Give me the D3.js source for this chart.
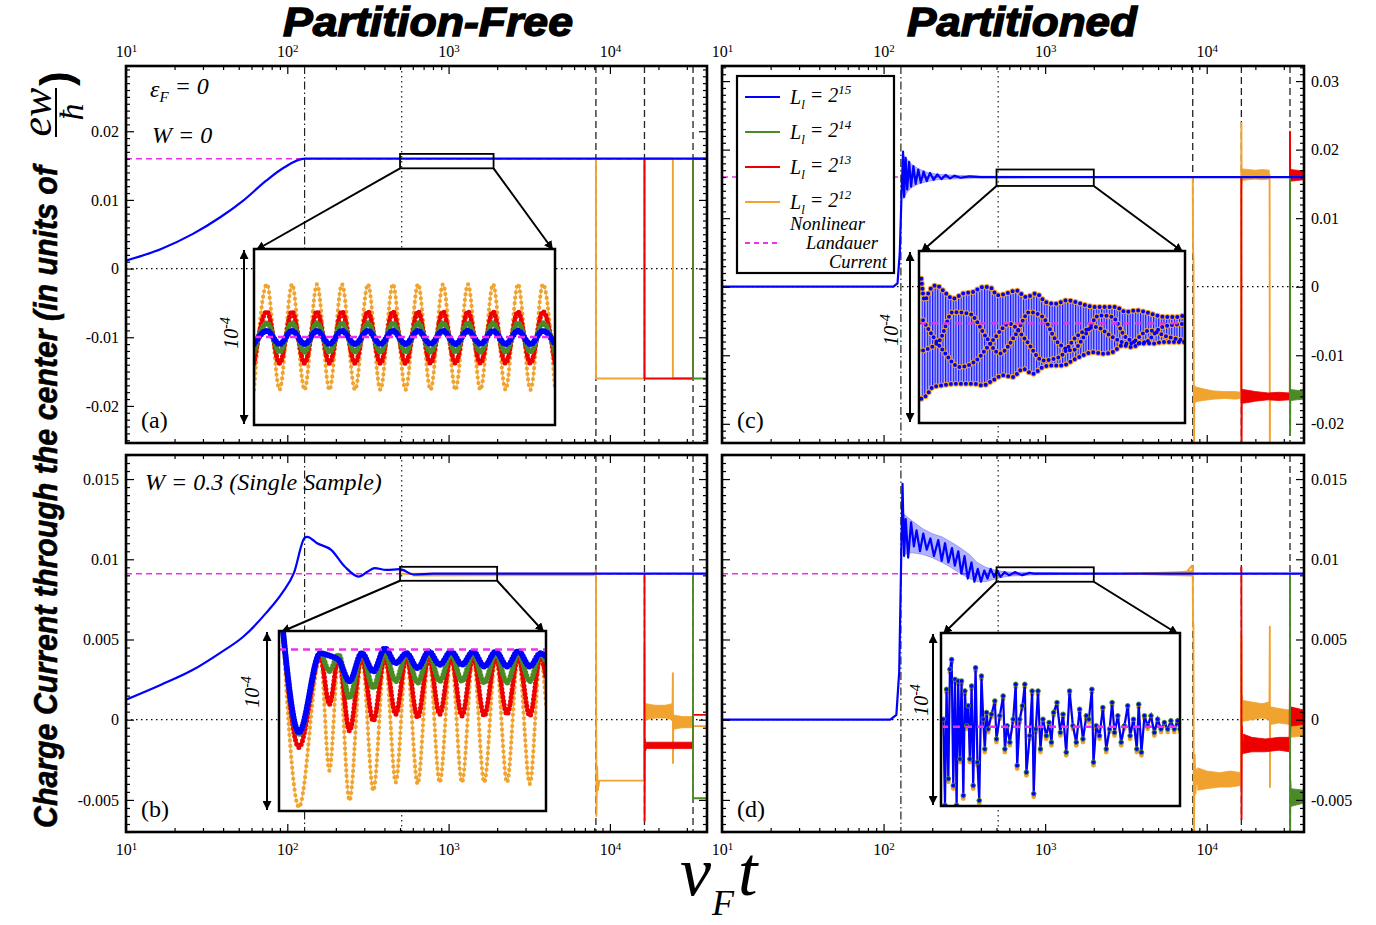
<!DOCTYPE html>
<html>
<head>
<meta charset="utf-8">
<title>Charge current through the center</title>
<script src="https://cdn.jsdelivr.net/npm/d3@7"></script>
<style>
  body { margin: 0; background: #fff; }
  svg { display: block; }
  .tick text { font-family: "Liberation Serif", "Times New Roman", serif; font-size: 16px; fill: #000; }
  .tick line { stroke: #000; stroke-width: 1.2; }
</style>
</head>
<body>
<svg id="fig" width="1376" height="925"></svg>
<script>
// time axis (v_F t), shared by all four panels
const tRange = [10, 40000];
const decadeTicks = [10, 100, 1000, 10000];
const crossingTime = 128;
const midTime = 512;
const reflectionTimes = [8192, 16384, 32768];

const yTicksTop = [-0.02, -0.01, 0, 0.01, 0.02, 0.03];
const yTicksBottom = [-0.005, 0, 0.005, 0.01, 0.015];

const landauerClean = 0.016;
const landauerDisordered = 0.0091;

// (a) partition-free, W = 0   [t, current]
const aBlue = [[10, 0.00116], [16.5, 0.00286], [26, 0.00505], [38.4, 0.00747], [53.3, 0.0099],
  [74, 0.0128], [96, 0.01475], [128, 0.016], [40000, 0.016]];
const aOrange = [[8192, 0.016], [8192, -0.016], [16384, -0.016], [16384, 0.016], [24576, 0.016],
  [24576, -0.016], [32768, -0.016], [32768, 0.016], [40000, 0.016]];
const aRed = [[16384, 0.016], [16384, -0.016], [32768, -0.016], [32768, 0.016], [40000, 0.016]];
const aGreen = [[32768, 0.016], [32768, -0.016], [40000, -0.016]];

// (b) partition-free, W = 0.3
const bBlue = [[10, 0.00125], [16.5, 0.00218], [26, 0.00311], [38.4, 0.00417], [53.3, 0.00517],
  [74, 0.00666], [93, 0.00791], [110, 0.00915], [128, 0.01133], [133, 0.0114], [153, 0.011],
  [187, 0.01059], [227, 0.00955], [277, 0.00892], [316, 0.00924], [348, 0.00945], [411, 0.00934],
  [499, 0.00938], [608, 0.00905], [800, 0.0091], [40000, 0.0091]];
const bOrange = [[500, 0.0091], [8100, 0.0091], [8192, 0.0093], [8250, -0.006], [8330, -0.0029],
  [8420, -0.0044], [8600, -0.0038], [16300, -0.0038], [16384, 0.0044], [16450, -0.0012],
  [16560, 0.001], [16700, 0.0004], [24450, 0.0005], [24576, 0.0029], [24620, -0.0027],
  [24700, 0.0002], [32700, -0.0002], [32768, -0.0004], [40000, -0.0004]];
const bOrangeBands = [
  [[600, 0.00895, 0.0091], [3000, 0.00898, 0.0091], [8000, 0.00898, 0.0091]],
  [[16700, 0, 0.001], [19000, 0.0001, 0.0009], [22000, 0.0001, 0.0009], [24400, 0, 0.001]],
  [[24800, -0.0006, 0.0003], [28000, -0.0005, 0.0002], [32600, -0.0005, 0.0002]]];
const bRed = [[16300, 0.0091], [16384, 0.0091], [16410, -0.0063], [16480, -0.0012], [16600, -0.0019],
  [16800, -0.0016], [32700, -0.0016], [32768, 0.0003], [40000, 0.0003]];
const bRedBands = [[[16800, -0.0018, -0.0014], [24000, -0.0018, -0.0014], [32600, -0.0018, -0.0014]]];
const bGreen = [[32768, 0.0091], [32768, -0.0049], [40000, -0.0049]];

// (c) partitioned, W = 0
const cBlue = [[10, 0], [115, 0], [122, 0.0005], [126, 0.005], [129, 0.013], [132, 0.0197],
  [134, 0.0131], [137, 0.0188], [140, 0.0142], [144, 0.0182], [148, 0.0146], [153, 0.0176],
  [158, 0.015], [164, 0.0171], [170, 0.0152], [177, 0.0168], [185, 0.0154], [194, 0.0166],
  [204, 0.0156], [215, 0.0164], [228, 0.0157], [242, 0.0163], [258, 0.0158], [275, 0.0162],
  [300, 0.0159], [340, 0.0161], [400, 0.016], [40000, 0.016]];
const cBlueBands = [[[133, 0.0128, 0.0192], [140, 0.0138, 0.0186], [150, 0.0145, 0.0178],
  [165, 0.015, 0.0172], [185, 0.0153, 0.0167], [215, 0.0156, 0.0164], [260, 0.0157, 0.0163],
  [400, 0.01585, 0.01615], [700, 0.0159, 0.0161], [1000, 0.01597, 0.01603]]];
const cOrange = [[8192, 0.016], [8230, 0.0054], [8280, 0.004], [8330, -0.024], [8400, -0.0145],
  [8470, -0.0168], [8550, -0.0152], [16300, -0.0158], [16384, 0.0239], [16450, 0.015],
  [16550, 0.0165], [24500, 0.0163], [24576, -0.024], [24650, -0.016], [32768, -0.016],
  [32800, 0.016], [40000, 0.016]];
const cOrangeBands = [
  [[8500, -0.0168, -0.0146], [9500, -0.0166, -0.0149], [11000, -0.0164, -0.0152],
   [13000, -0.0163, -0.0153], [15000, -0.0164, -0.0153], [16300, -0.0163, -0.0154]],
  [[16500, 0.0155, 0.0172], [18000, 0.0156, 0.0171], [20000, 0.0157, 0.017],
   [22000, 0.0156, 0.0171], [24400, 0.0157, 0.017]]];
const cRed = [[16384, 0.016], [16420, -0.024], [16500, -0.015], [16600, -0.0166], [32700, -0.016],
  [32768, 0.0226], [32850, 0.0155], [33000, 0.0165], [40000, 0.0162]];
const cRedBands = [
  [[16600, -0.017, -0.015], [18000, -0.0169, -0.0151], [20000, -0.0167, -0.0153],
   [24000, -0.0165, -0.0155], [28000, -0.0166, -0.0154], [32600, -0.0165, -0.0155]],
  [[33000, 0.0154, 0.0171], [36000, 0.0155, 0.017], [40000, 0.0156, 0.0169]]];
const cGreen = [[32768, 0.016], [32800, -0.0215], [32900, -0.015], [33100, -0.0162], [40000, -0.0158]];
const cGreenBands = [[[33100, -0.0166, -0.015], [36000, -0.0165, -0.0151], [40000, -0.0164, -0.0152]]];

// (d) partitioned, W = 0.3
const dBlue = [[10, 0], [110, 0], [120, 0.0003], [125, 0.003], [128, 0.009], [131, 0.0147],
  [134, 0.0102], [137, 0.0125], [142, 0.0101], [148, 0.0123], [154, 0.0108], [160, 0.0118],
  [168, 0.0105], [176, 0.0116], [185, 0.0106], [195, 0.0113], [205, 0.0102], [218, 0.0112],
  [229, 0.0099], [240, 0.011], [252, 0.0098], [265, 0.0107], [276, 0.0096], [290, 0.0105],
  [303, 0.0091], [317, 0.0102], [332, 0.0088], [350, 0.0098], [365, 0.0086], [383, 0.0094],
  [401, 0.0086], [420, 0.0093], [440, 0.0088], [460, 0.0094], [483, 0.0089], [505, 0.0093],
  [530, 0.0089], [560, 0.0092], [600, 0.009], [650, 0.0092], [721, 0.009], [800, 0.00915],
  [867, 0.0091], [40000, 0.0091]];
const dBlueBands = [[[134, 0.0103, 0.0128], [150, 0.0104, 0.0124], [175, 0.0103, 0.0119],
  [200, 0.0101, 0.0116], [230, 0.0098, 0.0114], [260, 0.0095, 0.0111], [300, 0.0091, 0.0107],
  [340, 0.0088, 0.0103], [380, 0.0086, 0.0098], [430, 0.0086, 0.0095], [500, 0.0088, 0.0093],
  [600, 0.00895, 0.0092], [900, 0.00903, 0.00917], [1500, 0.00906, 0.00914], [3000, 0.00908, 0.00912]]];
const dOrange = [[3000, 0.0091], [7500, 0.0092], [8100, 0.0096], [8192, 0.0093], [8230, 0.0058],
  [8270, 0.006], [8320, -0.008], [8420, -0.0022], [8520, -0.0046], [8650, -0.0031], [8800, -0.004],
  [16300, -0.0037], [16384, 0.0052], [16450, -0.0008], [16560, 0.0015], [16700, 0.0004],
  [24450, 0.0006], [24576, 0.0058], [24620, -0.0042], [24700, 0.0008], [24900, 0.0002],
  [32700, 0.0002], [32768, -0.0006], [40000, -0.0006]];
const dOrangeBands = [
  [[4000, 0.00905, 0.00915], [6500, 0.00898, 0.0092], [8100, 0.00895, 0.0093]],
  [[8800, -0.0044, -0.003], [10000, -0.0043, -0.0032], [12000, -0.0042, -0.0033],
   [14000, -0.0042, -0.0032], [16300, -0.0041, -0.0033]],
  [[16700, -0.0001, 0.0012], [19000, 0, 0.0011], [22000, 0.0001, 0.001], [24400, 0, 0.0011]],
  [[24800, -0.0003, 0.0008], [28000, -0.0002, 0.0007], [32600, -0.0003, 0.0006]],
  [[32900, -0.0011, -0.0002], [40000, -0.001, -0.0003]]];
const dRed = [[16300, 0.0093], [16384, 0.0095], [16420, -0.0062], [16500, -0.0004], [16650, -0.0021],
  [16900, -0.0014], [32600, -0.0016], [32768, 0.0033], [32850, -0.0008], [33000, 0.0004], [40000, 0.0001]];
const dRedBands = [
  [[16900, -0.0021, -0.0009], [19000, -0.002, -0.0011], [23000, -0.002, -0.0012],
   [28000, -0.0019, -0.0011], [32600, -0.002, -0.0011]],
  [[33000, -0.0004, 0.0008], [40000, -0.0003, 0.0006]]];
const dGreen = [[32768, 0.0091], [32800, -0.008], [32950, -0.0038], [33200, -0.0051], [40000, -0.0048]];
const dGreenBands = [[[33200, -0.0054, -0.0043], [40000, -0.0052, -0.0044]]];

// insets: deviation from the Landauer current, in units of 1e-6
const insetA_t = [500, 560, 619, 677, 735, 793, 851, 909, 970, 1030, 1088, 1146, 1205, 1263,
  1321, 1379, 1437, 1495, 1553, 1612, 1670, 1728, 1786, 1844, 1900];
const insetA_orange = [-30, 30, -30, 30, -30, 30, -30, 30, -30, 30, -30, 30, -30, 30, -30, 30,
  -30, 30, -30, 30, -30, 30, -30, 30, -30];
const insetA_red = [-15, 14.5, -15, 14.5, -15, 14.5, -15, 14.5, -15, 14.5, -15, 14.5, -15, 14.5,
  -15, 14.5, -15, 14.5, -15, 14.5, -15, 14.5, -15, 14.5, -15];
const insetA_green = [-8.5, 8, -8.5, 8, -8.5, 8, -8.5, 8, -8.5, 8, -8.5, 8, -8.5, 8, -8.5, 8,
  -8.5, 8, -8.5, 8, -8.5, 8, -8.5, 8, -8.5];
const insetA_blue = [-4, 3.5, -4, 3.5, -4, 3.5, -4, 3.5, -4, 3.5, -4, 3.5, -4, 3.5, -4, 3.5,
  -4, 3.5, -4, 3.5, -4, 3.5, -4, 3.5, -4];

const insetB_t = [519, 612, 732, 783, 835, 896, 965, 1030, 1095, 1156, 1216, 1279, 1342, 1403,
  1467, 1528, 1591, 1653, 1718, 1781, 1844, 1909, 1969, 2000];
const insetB_blue = [14, -47.5, -2.1, -3.5, -6, -18.2, -2.1, -12.5, 0.7, -7.8, -2.1, -10.6, -1.1,
  -8.7, -1.1, -8.7, -1.1, -9.7, -1.1, -9.7, -0.8, -9.7, -2.1, -4];
const insetB_green = [14, -48.5, -2.1, -12.5, -3, -27.7, -2.1, -22, -2.1, -18.2, -2.1, -19.1, -2.1,
  -18.2, -2.1, -18.2, -2.1, -19.1, -2.1, -19.1, -2.1, -18.2, -2.1, -7.8];
const insetB_red = [14, -56, -4, -31.4, -4, -46.6, -4, -40.9, -4, -37.1, -4, -39, -4, -37.1, -4,
  -38, -4, -38, -4, -37.1, -4, -38, -4, -16.3];
const insetB_orange = [14, -90.2, -4, -69.3, -5, -86.4, -4, -80.7, -4, -76, -4, -76.9, -4, -76,
  -4, -76, -4, -76, -4, -76, -4, -76.9, -4, -31.4];

const insetC_upper = [[513, 26], [532, 13.4], [560, 19.2], [598, 22.1], [635, 19.2], [691, 14.4],
  [748, 17.3], [804, 18.2], [860, 21.1], [898, 21.1], [944, 16.3], [991, 17.3], [1048, 19.2],
  [1104, 15.3], [1160, 17.3], [1216, 12.4], [1273, 11.4], [1329, 13.4], [1385, 12.4], [1441, 10.5],
  [1498, 9.5], [1554, 9.5], [1610, 9.5], [1666, 6.6], [1723, 7.6], [1779, 6.6], [1835, 4.7],
  [1891, 3.7], [1948, 3.7], [2000, 4.7]];
const insetC_lower = [[513, -43.8], [541, -41.9], [579, -37], [635, -36], [691, -35.1], [748, -35.1],
  [804, -35.1], [860, -36], [916, -33.1], [973, -30.2], [1029, -31.2], [1085, -26.4], [1141, -29.3],
  [1198, -25.4], [1254, -24.4], [1310, -24.4], [1366, -21.5], [1423, -18.6], [1479, -16.7],
  [1535, -17.6], [1591, -16.7], [1648, -12.8], [1704, -13.8], [1760, -10.8], [1816, -11.8],
  [1873, -10.8], [1929, -10.8], [2000, -10.8]];
const insetC_inner1 = [[523, -15.7], [616, -9.9], [691, 6.6], [785, 5.6], [879, -8], [954, -17.6],
  [1048, -6], [1123, 6.6], [1198, 3.7], [1273, -9.9], [1366, -15.7], [1441, -6], [1516, 4.7],
  [1591, 3.7], [1666, -8], [1760, -11.8], [1873, -2.1], [2000, -0.2]];
const insetC_inner2 = [[523, 1.8], [635, -15.7], [729, -25.4], [823, -21.5], [916, -9.9], [1010, -0.2],
  [1104, -9.9], [1198, -21.5], [1291, -19.6], [1385, -8], [1498, -2.1], [1591, -8], [1685, -11.8],
  [1798, -4.1], [1910, -8], [2000, -9.9]];

const insetD_pts = [[515, 4.4], [525, -45.6], [535, 21.8], [546, -30.2], [556, 33.4], [567, 39.1],
  [577, -34.1], [588, 27.6], [598, -45.6], [608, 26.6], [619, -18.7], [629, 26.6], [640, -39.9],
  [650, 20.8], [661, 0.6], [671, 12.2], [681, -18.7], [692, 23.7], [702, -34.1], [717, 34.3],
  [729, -20.6], [740, -42.8], [754, 29.5], [765, 4.4], [775, -12.9], [786, 8.3], [796, -1.3],
  [817, 7.3], [838, 15], [848, -7.1], [869, 6.4], [890, 17.9], [901, -12.9], [915, 0.6], [932, -9],
  [953, 4.4], [969, 24.7], [978, -22.5], [994, 4.4], [1011, 12.2], [1026, 24.7], [1036, -26.4],
  [1057, -5.2], [1072, 20.8], [1082, -38.9], [1095, -1.3], [1109, 20.8], [1124, -12.9], [1140, 4.4],
  [1161, -5.2], [1178, 2.5], [1193, -9], [1207, 8.3], [1228, 14.1], [1249, -3.3], [1266, 7.3],
  [1286, -14.8], [1307, 20.8], [1328, 0.6], [1349, -9], [1370, 10.2], [1391, -7.1], [1412, 6.4],
  [1428, 4.4], [1447, 21.8], [1457, -20.6], [1474, 0.6], [1495, -5.2], [1516, 11.2], [1537, -12.9],
  [1558, -1.3], [1574, 14.1], [1589, -3.3], [1610, 6.4], [1631, -9], [1651, 0.6], [1672, 12.2],
  [1687, -5.2], [1708, 4.4], [1729, -12.9], [1741, 13.1], [1758, -14.8], [1777, 6.4], [1797, 0.6],
  [1818, 6.4], [1839, -3.3], [1860, 4.4], [1881, -1.3], [1902, 2.5], [1923, -1.3], [1943, 3.5],
  [1964, -1.3], [1985, 3.5], [2000, -1.3]];

const legendExponents = ["15", "14", "13", "12"];
const legendColors = ["blue", "green", "red", "orange"];

// ---------------------------------------------------------------
const col = { blue: "#0000ff", green: "#4b8b25", red: "#ee0000", orange: "#f0a32f", magenta: "#ee30ee" };
const serif = "'Liberation Serif','Times New Roman',serif";
const sans = "'Liberation Sans',Arial,sans-serif";

const panels = [
  { key: "a", tag: "(a)", left: 126, top: 66, width: 581, height: 377,
    yDomain: [-0.0254, 0.0295], yMajor: yTicksTop, yMinorStep: 0.001, xLabels: "top", yLabels: "left",
    landauer: landauerClean,
    series: [{ color: "orange", line: aOrange }, { color: "red", line: aRed },
             { color: "green", line: aGreen }, { color: "blue", line: aBlue, smooth: true }],
    inset: { kind: "wave", box: { x: 128, y: 183, w: 301, h: 176 }, window: [500, 1900, 0.0146, 0.0167],
      vDomain: [-50, 50], arrowDx: -10, labelDx: -16, labelCy: 84, t: insetA_t,
      lines: [["orange", insetA_orange], ["red", insetA_red], ["green", insetA_green], ["blue", insetA_blue]] } },
  { key: "b", tag: "(b)", left: 126, top: 455, width: 581, height: 377,
    yDomain: [-0.007, 0.0165], yMajor: yTicksBottom, yMinorStep: 0.0005, xLabels: "bottom", yLabels: "left",
    landauer: landauerDisordered,
    series: [{ color: "orange", line: bOrange, bands: bOrangeBands }, { color: "red", line: bRed, bands: bRedBands },
             { color: "green", line: bGreen }, { color: "blue", line: bBlue, smooth: true }],
    inset: { kind: "wave", box: { x: 153, y: 176, w: 267, h: 180 }, window: [500, 2000, 0.00866, 0.00953],
      vDomain: [-92.4, 10.6], arrowDx: -12, labelDx: -20, labelCy: 61, t: insetB_t,
      lines: [["orange", insetB_orange], ["red", insetB_red], ["green", insetB_green], ["blue", insetB_blue]] } },
  { key: "c", tag: "(c)", left: 722, top: 66, width: 582, height: 377,
    yDomain: [-0.0228, 0.0322], yMajor: yTicksTop, yMinorStep: 0.001, xLabels: "top", yLabels: "right",
    landauer: landauerClean,
    series: [{ color: "orange", line: cOrange, bands: cOrangeBands }, { color: "red", line: cRed, bands: cRedBands },
             { color: "green", line: cGreen, bands: cGreenBands }, { color: "blue", line: cBlue, bands: cBlueBands }],
    inset: { kind: "envelope", box: { x: 197, y: 185, w: 266, h: 172 }, window: [500, 2000, 0.0147, 0.0171],
      vDomain: [-57.9, 42.1], arrowDx: -9, labelDx: -21, labelCy: 79 } },
  { key: "d", tag: "(d)", left: 722, top: 455, width: 582, height: 377,
    yDomain: [-0.007, 0.0165], yMajor: yTicksBottom, yMinorStep: 0.0005, xLabels: "bottom", yLabels: "right",
    landauer: landauerDisordered,
    series: [{ color: "orange", line: dOrange, bands: dOrangeBands }, { color: "red", line: dRed, bands: dRedBands },
             { color: "green", line: dGreen, bands: dGreenBands }, { color: "blue", line: dBlue, bands: dBlueBands }],
    inset: { kind: "noise", box: { x: 219, y: 178, w: 239, h: 173 }, window: [500, 2000, 0.0086, 0.0095],
      vDomain: [-46, 54.5], arrowDx: -8, labelDx: -13, labelCy: 67 } }
];

const svg = d3.select("#fig");
const defs = svg.append("defs");

defs.append("marker").attr("id", "arrow")
  .attr("viewBox", "0 0 10 10").attr("refX", 10).attr("refY", 5)
  .attr("markerWidth", 9).attr("markerHeight", 9)
  .attr("markerUnits", "userSpaceOnUse").attr("orient", "auto-start-reverse")
  .append("path").attr("d", "M0,0L10,5L0,10Z").attr("fill", "#000");

const hatch = defs.append("pattern").attr("id", "hatch")
  .attr("patternUnits", "userSpaceOnUse").attr("width", 2.6).attr("height", 10);
hatch.append("rect").attr("width", 2.6).attr("height", 10).attr("fill", "#b4b4ff");
hatch.append("rect").attr("width", 1.2).attr("height", 10).attr("fill", "#1010ff");

const fmtY = d => String(+d.toFixed(4));

function drawAxes(g, x, y, p) {
  const minorX = x.ticks().filter(t => !decadeTicks.includes(t) && t < tRange[1]);
  [["top", 0, d3.axisTop], ["bottom", p.height, d3.axisBottom]].forEach(([side, pos, mk]) => {
    g.append("g").attr("transform", `translate(0,${pos})`)
      .call(mk(x).tickValues(minorX).tickSize(-4).tickFormat(""))
      .call(a => a.select(".domain").remove());
    const labelled = p.xLabels === side;
    const ax = g.append("g").attr("transform", `translate(0,${pos})`)
      .call(mk(x).tickValues(decadeTicks).tickSize(-8).tickPadding(side === "top" ? 9 : 12)
        .tickFormat(labelled ? () => "10" : ""))
      .call(a => a.select(".domain").remove());
    if (labelled) {
      ax.selectAll(".tick text").append("tspan")
        .attr("dy", "-0.5em").attr("font-size", "11px")
        .text(d => Math.round(Math.log10(d)));
    }
  });

  const [lo, hi] = p.yDomain;
  const majorY = p.yMajor.filter(v => v >= lo && v <= hi);
  const minorY = d3.range(Math.ceil(lo / p.yMinorStep), Math.floor(hi / p.yMinorStep) + 1)
    .map(i => +(i * p.yMinorStep).toFixed(5))
    .filter(v => !majorY.some(m => Math.abs(m - v) < 1e-9));
  [["left", 0, d3.axisLeft], ["right", p.width, d3.axisRight]].forEach(([side, pos, mk]) => {
    g.append("g").attr("transform", `translate(${pos},0)`)
      .call(mk(y).tickValues(minorY).tickSize(-4).tickFormat(""))
      .call(a => a.select(".domain").remove());
    g.append("g").attr("transform", `translate(${pos},0)`)
      .call(mk(y).tickValues(majorY).tickSize(-8).tickPadding(7).tickFormat(p.yLabels === side ? fmtY : ""))
      .call(a => a.select(".domain").remove());
  });
}

const waveStyle = {
  orange: { lw: 1.3, dw: 4.2, gap: 5.5 },
  red: { lw: 2, dw: 5, gap: 4 },
  green: { lw: 3, dw: 5.5, gap: 3.5 },
  blue: { lw: 3.5, dw: 6, gap: 3 }
};

function dotted(sel, pathD, color, width, gap) {
  return sel.append("path").attr("d", pathD).attr("fill", "none")
    .attr("stroke", color).attr("stroke-width", width)
    .attr("stroke-linecap", "round").attr("stroke-dasharray", `0,${gap}`);
}

function drawInset(g, x, y, p) {
  const s = p.inset, b = s.box;
  const rx0 = x(s.window[0]), rx1 = x(s.window[1]);
  const ryTop = y(s.window[3]), ryBot = y(s.window[2]);

  g.append("rect").attr("x", rx0).attr("y", ryTop).attr("width", rx1 - rx0).attr("height", ryBot - ryTop)
    .attr("fill", "none").attr("stroke", "#000").attr("stroke-width", 1.8);
  [[rx0, b.x + 2], [rx1, b.x + b.w - 2]].forEach(([from, to]) => {
    g.append("line").attr("x1", from).attr("y1", ryBot).attr("x2", to).attr("y2", b.y + 1)
      .attr("stroke", "#000").attr("stroke-width", 2).attr("marker-end", "url(#arrow)");
  });

  const ig = g.append("g").attr("transform", `translate(${b.x},${b.y})`);
  ig.append("rect").attr("width", b.w).attr("height", b.h).attr("fill", "#fff");
  defs.append("clipPath").attr("id", "iclip-" + p.key)
    .append("rect").attr("width", b.w).attr("height", b.h);
  const body = ig.append("g").attr("clip-path", `url(#iclip-${p.key})`);

  const ix = d3.scaleLinear().domain([s.window[0], s.window[1]]).range([0, b.w]);
  const iy = d3.scaleLinear().domain(s.vDomain).range([b.h, 0]);
  const line = d3.line().x(d => ix(d[0])).y(d => iy(d[1]));

  if (s.kind === "wave") {
    const smooth = line.curve(d3.curveMonotoneX);
    s.lines.forEach(([c, vals]) => {
      const st = waveStyle[c];
      const dPath = smooth(d3.zip(s.t, vals));
      body.append("path").attr("d", dPath).attr("fill", "none")
        .attr("stroke", col[c]).attr("stroke-width", st.lw).attr("stroke-opacity", c === "orange" ? 0.8 : 1);
      dotted(body, dPath, col[c], st.dw, st.gap);
    });
  } else if (s.kind === "envelope") {
    const outline = line.curve(d3.curveLinear)(insetC_upper.concat(insetC_lower.slice().reverse())) + "Z";
    body.append("path").attr("d", outline).attr("fill", "url(#hatch)").attr("stroke", "none");
    const edges = [insetC_upper, insetC_lower, insetC_inner1, insetC_inner2].map(e => line.curve(d3.curveMonotoneX)(e));
    edges.forEach(e => body.append("path").attr("d", e).attr("fill", "none").attr("stroke", col.blue).attr("stroke-width", 1));
    edges.forEach(e => dotted(body, e, col.orange, 6, 5));
    edges.forEach(e => dotted(body, e, col.blue, 4, 5));
  } else {
    const lin = line.curve(d3.curveLinear);
    body.append("path").attr("d", lin(insetD_pts)).attr("fill", "none")
      .attr("stroke", col.orange).attr("stroke-width", 1.5).attr("transform", "translate(0,3)");
    body.append("g").attr("transform", "translate(0,3)").selectAll("circle").data(insetD_pts).join("circle")
      .attr("cx", d => ix(d[0])).attr("cy", d => iy(d[1])).attr("r", 2.4).attr("fill", col.orange);
    body.append("path").attr("d", lin(insetD_pts)).attr("fill", "none")
      .attr("stroke", col.blue).attr("stroke-width", 2.2);
    body.append("g").selectAll("circle").data(insetD_pts).join("circle")
      .attr("cx", d => ix(d[0])).attr("cy", d => iy(d[1])).attr("r", 2.3)
      .attr("fill", col.blue).attr("stroke", col.green).attr("stroke-width", 1);
  }

  body.append("line").attr("x1", 0).attr("x2", b.w).attr("y1", iy(0)).attr("y2", iy(0))
    .attr("stroke", col.magenta).attr("stroke-width", 2.4).attr("stroke-dasharray", "7,5");

  ig.append("rect").attr("width", b.w).attr("height", b.h)
    .attr("fill", "none").attr("stroke", "#000").attr("stroke-width", 2.5);

  ig.append("line").attr("x1", s.arrowDx).attr("x2", s.arrowDx).attr("y1", 1).attr("y2", b.h - 1)
    .attr("stroke", "#000").attr("stroke-width", 2)
    .attr("marker-start", "url(#arrow)").attr("marker-end", "url(#arrow)");
  const lab = ig.append("text").attr("transform", `translate(${s.labelDx},${s.labelCy}) rotate(-90)`)
    .attr("text-anchor", "middle").attr("font-family", serif).attr("font-style", "italic").attr("font-size", 20);
  lab.append("tspan").text("10");
  lab.append("tspan").attr("dy", "-0.55em").attr("font-size", 14).text("-4");
}

function drawPanel(p) {
  const g = svg.append("g").attr("transform", `translate(${p.left},${p.top})`);
  const x = d3.scaleLog().domain(tRange).range([0, p.width]);
  const y = d3.scaleLinear().domain(p.yDomain).range([p.height, 0]);

  defs.append("clipPath").attr("id", "clip-" + p.key)
    .append("rect").attr("width", p.width).attr("height", p.height);
  const plot = g.append("g").attr("clip-path", `url(#clip-${p.key})`);

  const vline = (t, dash, w) => plot.append("line")
    .attr("x1", x(t)).attr("x2", x(t)).attr("y1", 0).attr("y2", p.height)
    .attr("stroke", "#222").attr("stroke-width", w).attr("stroke-dasharray", dash);
  vline(crossingTime, "8,3,1.5,3", 1.2);
  vline(midTime, "1.5,3.5", 1.2);
  reflectionTimes.forEach(t => vline(t, "7,4", 1.3));

  plot.append("line").attr("x1", 0).attr("x2", p.width).attr("y1", y(0)).attr("y2", y(0))
    .attr("stroke", "#000").attr("stroke-width", 1.2).attr("stroke-dasharray", "1.5,3.5");
  plot.append("line").attr("x1", 0).attr("x2", p.width).attr("y1", y(p.landauer)).attr("y2", y(p.landauer))
    .attr("stroke", col.magenta).attr("stroke-width", 1.6).attr("stroke-dasharray", "6,4");

  const band = d3.area().x(d => x(d[0])).y0(d => y(d[1])).y1(d => y(d[2]));
  p.series.forEach(s => {
    (s.bands || []).forEach(bd => plot.append("path").attr("d", band(bd))
      .attr("fill", col[s.color]).attr("fill-opacity", s.color === "blue" ? 0.3 : 1)
      .attr("stroke", col[s.color]).attr("stroke-width", s.color === "blue" ? 0.5 : 0.8)
      .attr("stroke-opacity", s.color === "blue" ? 0.5 : 1));
    plot.append("path").datum(s.line)
      .attr("d", d3.line().x(d => x(d[0])).y(d => y(d[1])).curve(s.smooth ? d3.curveMonotoneX : d3.curveLinear))
      .attr("fill", "none").attr("stroke", col[s.color])
      .attr("stroke-width", s.color === "blue" ? 2.2 : 1.9).attr("stroke-linejoin", "round");
  });

  drawInset(g, x, y, p);
  drawAxes(g, x, y, p);

  g.append("rect").attr("width", p.width).attr("height", p.height)
    .attr("fill", "none").attr("stroke", "#000").attr("stroke-width", 2.6);

  g.append("text").attr("x", 15).attr("y", p.height - 15)
    .attr("font-family", serif).attr("font-size", 24).text(p.tag);
  return g;
}

const groups = {};
panels.forEach(p => { groups[p.key] = drawPanel(p); });

// annotations in (a) and (b)
const note = (g, xx, yy, parts) => {
  const t = g.append("text").attr("x", xx).attr("y", yy)
    .attr("font-family", serif).attr("font-style", "italic").attr("font-size", 24);
  parts.forEach(([txt, dy, size]) => t.append("tspan").attr("dy", dy).attr("font-size", size).text(txt));
};
note(groups.a, 24, 31, [["\u03b5", 0, 24], ["F", "0.3em", 15], [" = 0", "-0.3em", 24]]);
note(groups.a, 26, 77, [["W = 0", 0, 24]]);
note(groups.b, 19, 35, [["W = 0.3 (Single Sample)", 0, 24]]);

// legend in (c)
const lg = groups.c.append("g").attr("transform", "translate(15,10)");
lg.append("rect").attr("width", 157).attr("height", 197)
  .attr("fill", "#fff").attr("stroke", "#000").attr("stroke-width", 2.2);
legendExponents.forEach((e, i) => {
  const yy = 21 + i * 35;
  lg.append("line").attr("x1", 8).attr("x2", 43).attr("y1", yy).attr("y2", yy)
    .attr("stroke", col[legendColors[i]]).attr("stroke-width", 2.2);
  const t = lg.append("text").attr("x", 53).attr("y", yy + 7)
    .attr("font-family", serif).attr("font-style", "italic").attr("font-size", 20);
  t.append("tspan").text("L");
  t.append("tspan").attr("dy", "0.35em").attr("font-size", 13).text("l");
  t.append("tspan").attr("dy", "-0.35em").text(" = 2");
  t.append("tspan").attr("dy", "-0.6em").attr("font-size", 13).text(e);
});
lg.append("line").attr("x1", 8).attr("x2", 43).attr("y1", 167).attr("y2", 167)
  .attr("stroke", col.magenta).attr("stroke-width", 1.8).attr("stroke-dasharray", "5,4");
[["Nonlinear", 53, 154], ["Landauer", 69, 173], ["Current", 92, 192]].forEach(([txt, xx, yy]) => {
  lg.append("text").attr("x", xx).attr("y", yy).attr("font-family", serif)
    .attr("font-style", "italic").attr("font-size", 18.5).text(txt);
});

// column titles
[["Partition-Free", 428, 290], ["Partitioned", 1022, 230]].forEach(([txt, cx, len]) => {
  svg.append("text").attr("x", cx).attr("y", 36).attr("text-anchor", "middle")
    .attr("font-family", sans).attr("font-weight", 900).attr("font-style", "italic")
    .attr("font-size", 40).attr("textLength", len).attr("lengthAdjust", "spacingAndGlyphs")
    .attr("stroke", "#000").attr("stroke-width", 1.4).text(txt);
});

// y axis title
const yl = svg.append("g").attr("transform", "translate(57,828) rotate(-90)");
yl.append("text").attr("font-family", sans).attr("font-weight", 900).attr("font-style", "italic")
  .attr("font-size", 33).attr("textLength", 662).attr("lengthAdjust", "spacingAndGlyphs")
  .attr("stroke", "#000").attr("stroke-width", 0.6)
  .text("Charge Current through the center (in units of");
yl.append("text").attr("x", 716).attr("y", -6).attr("text-anchor", "middle")
  .attr("font-family", serif).attr("font-style", "italic").attr("font-size", 44).text("ew");
yl.append("line").attr("x1", 691).attr("x2", 740).attr("y1", -1).attr("y2", -1)
  .attr("stroke", "#000").attr("stroke-width", 2);
yl.append("text").attr("x", 716).attr("y", 26).attr("text-anchor", "middle")
  .attr("font-family", serif).attr("font-style", "italic").attr("font-size", 34).text("\u0127");
yl.append("text").attr("x", 742).attr("y", 14)
  .attr("font-family", sans).attr("font-weight", 900).attr("font-size", 44).text(")");

// x axis title
const xl = svg.append("text").attr("font-family", serif).attr("font-style", "italic");
xl.append("tspan").attr("x", 680).attr("y", 895).attr("font-size", 70).text("v");
xl.append("tspan").attr("x", 712).attr("y", 915).attr("font-size", 36).text("F");
xl.append("tspan").attr("x", 738).attr("y", 895).attr("font-size", 70).text("t");
</script>
</body>
</html>
